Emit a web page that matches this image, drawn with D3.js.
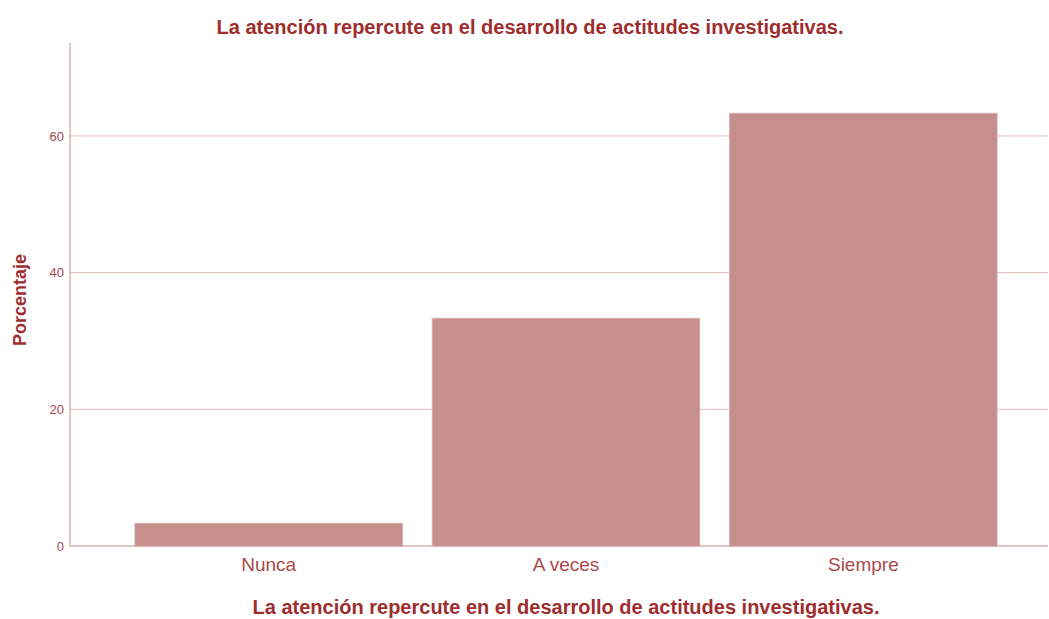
<!DOCTYPE html>
<html><head><meta charset="utf-8">
<script src="https://cdn.jsdelivr.net/npm/d3@7"></script>
<style>body{margin:0;background:#fff;} text{font-family:"Liberation Sans",Arial,sans-serif;}</style>
</head><body>
<svg id="c" width="1049" height="619"></svg>
<script>
const categories = ["Nunca", "A veces", "Siempre"];
const values = [3.33, 33.33, 63.33];
const yTicks = [0, 20, 40, 60];
const title = "La atención repercute en el desarrollo de actitudes investigativas.";
const xTitle = "La atención repercute en el desarrollo de actitudes investigativas.";
const yTitle = "Porcentaje";

const svg = d3.select("#c");
const axisX0 = 70, axisX1 = 1048, y0 = 546, yTop = 43;
const y = d3.scaleLinear().domain([0, 73.6]).range([y0, yTop]);
const x = d3.scaleBand().domain(categories).range([120, 1012]).paddingInner(0.1).paddingOuter(0.05);

// grid
svg.append("g").selectAll("line").data(yTicks.filter(d => d > 0)).join("line")
  .attr("x1", axisX0).attr("x2", axisX1)
  .attr("y1", d => y(d)).attr("y2", d => y(d))
  .attr("stroke", "#e3bcbc").attr("stroke-width", 1);

// bars
svg.append("g").selectAll("rect").data(values).join("rect")
  .attr("x", (d, i) => x(categories[i]))
  .attr("width", x.bandwidth())
  .attr("y", d => y(d))
  .attr("height", d => y0 - y(d))
  .attr("fill", "#c68f8e")
  .attr("stroke", "#d9b0af").attr("stroke-width", 0.8);

// y axis
const ya = svg.append("g").attr("transform", `translate(${axisX0},0)`)
  .call(d3.axisLeft(y).tickValues(yTicks).tickSize(0).tickPadding(6));
ya.select(".domain").remove();
ya.selectAll("text").attr("fill", "#a8494a").attr("font-size", 13).attr("font-family", "Liberation Sans, Arial, sans-serif");
svg.append("line").attr("x1", axisX0).attr("x2", axisX0).attr("y1", yTop).attr("y2", y0)
  .attr("stroke", "#c98b8c").attr("stroke-width", 1);

// x axis
const xa = svg.append("g").attr("transform", `translate(0,${y0})`)
  .call(d3.axisBottom(x).tickSize(0).tickPadding(12));
xa.select(".domain").remove();
xa.selectAll("text").attr("fill", "#a8494a").attr("font-size", 19).attr("font-family", "Liberation Sans, Arial, sans-serif");
svg.append("line").attr("x1", axisX0).attr("x2", axisX1).attr("y1", y0).attr("y2", y0)
  .attr("stroke", "#c98b8c").attr("stroke-width", 1.2);

// titles
svg.append("text").attr("x", 530).attr("y", 34).attr("text-anchor", "middle")
  .attr("font-size", 20).attr("font-weight", "bold").attr("fill", "#9e2e2e").text(title);
svg.append("text").attr("x", 566).attr("y", 614).attr("text-anchor", "middle")
  .attr("font-size", 20).attr("font-weight", "bold").attr("fill", "#9e2e2e").text(xTitle);
svg.append("text").attr("transform", "translate(26,300) rotate(-90)").attr("text-anchor", "middle")
  .attr("font-size", 18).attr("font-weight", "bold").attr("fill", "#9e2e2e").text(yTitle);
</script>
</body></html>
